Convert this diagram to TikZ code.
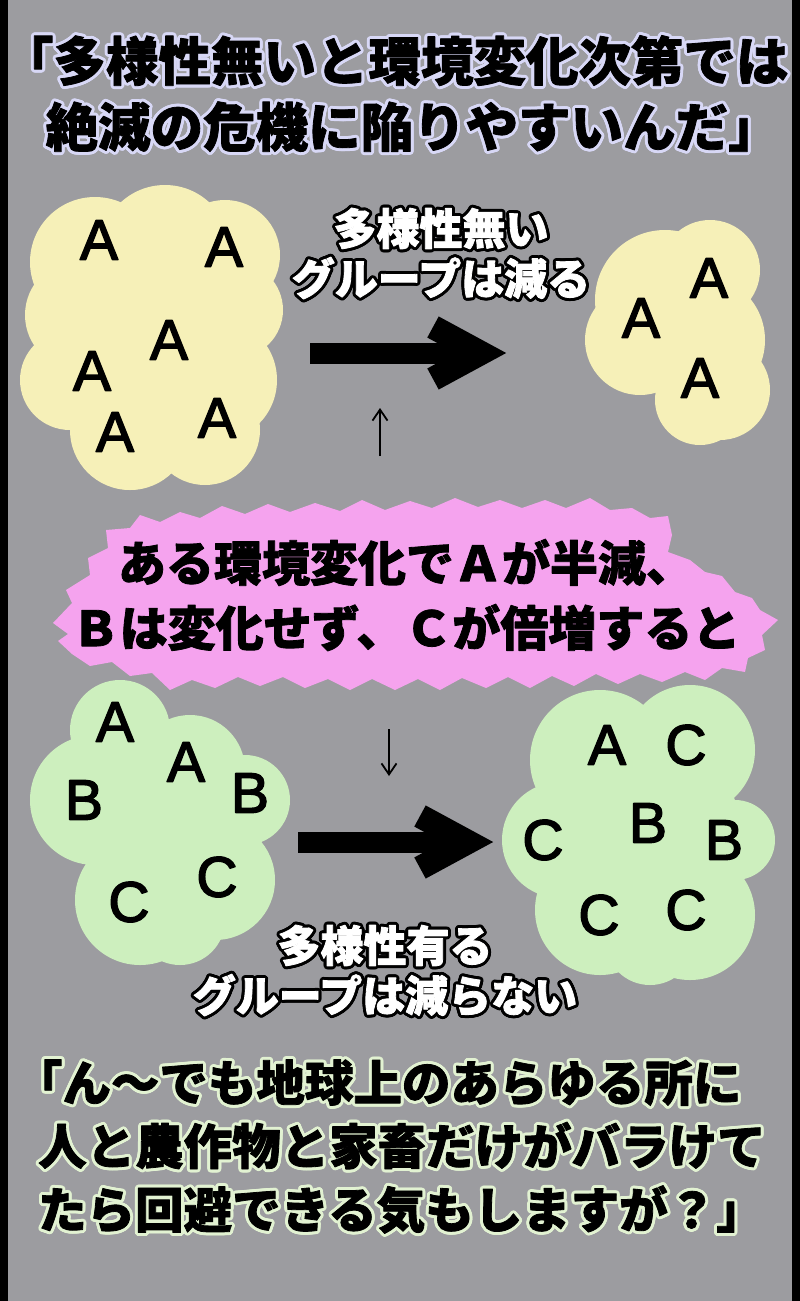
\documentclass[tikz,border=0pt]{standalone}
\usepackage{fontspec}
\setmainfont{Liberation Sans}
\newfontfamily\jpfont{Noto Sans CJK JP}
\usepackage{contour}
\usetikzlibrary{arrows.meta}

\definecolor{panelgrey}{HTML}{9C9CA0}
\definecolor{creamcloud}{HTML}{F6F0B8}
\definecolor{mintcloud}{HTML}{CDEFBE}
\definecolor{burstpink}{HTML}{F5A3EE}
\definecolor{titleglow}{HTML}{D8D8F6}
\definecolor{noteglow}{HTML}{E2F2D2}

\contourlength{3pt}
\contournumber{16}

% glyphs stroked as well as filled (heavier ink)
\newcommand\inked[2]{\special{pdf:literal direct #1 w 1 j 2 Tr}#2\special{pdf:literal direct 0 Tr}}
\newcommand\haloline[2]{\contour{#1}{\inked{0.8}{#2}}}
\newcommand\openq[1][0.5em]{\makebox[#1][r]{「}}
\newcommand\closeq{\makebox[0.5em][l]{」}}

\tikzset{
  letter/.style={inner sep=0pt, font=\fontsize{57}{57}\selectfont},
  headline/.style={inner sep=0pt, align=center, font=\jpfont\bfseries\fontsize{52.5}{66}\selectfont},
  caption/.style={inner sep=0pt, align=center, text=white, font=\jpfont\bfseries\fontsize{43}{50}\selectfont},
  bursttext/.style={inner sep=0pt, align=center, font=\jpfont\bfseries\fontsize{48}{65}\selectfont},
  note/.style={inner sep=0pt, align=left, font=\jpfont\bfseries\fontsize{48.5}{63.5}\selectfont},
  bigshaft/.style={line width=21pt},
  bighead/.style={line width=24pt, line join=miter},
  thinarrow/.style={line width=1.8pt, -{Straight Barb[length=11pt,width=15pt]}}
}

\begin{document}
\begin{tikzpicture}[x=1pt, y=-1pt]
  \useasboundingbox (0,0) rectangle (800,1301);
  \fill[panelgrey] (0,0) rectangle (800,1301);
  \fill[black] (0,0) rectangle (8,1301);
  \fill[black] (792,0) rectangle (800,1301);

  % headline
  \node[headline] (title) at (400,95)
    {\haloline{titleglow}{\openq[0.8em]多様性無いと環境変化次第では}\\\haloline{titleglow}{絶滅の危機に陥りやすいんだ\closeq}};

  % clouds
  \foreach \cx/\cy/\r in {95/262/65, 165/250/65, 225/255/55, 235/310/48, 80/315/55, 150/340/80,
      70/380/50, 215/380/62, 205/430/55, 130/430/60, 130/455/35}
    {\fill[creamcloud] (\cx,\cy) circle (\r pt);}
  \foreach \cx/\cy/\r in {665/300/70, 710/270/50, 700/340/65, 720/390/50, 640/340/55, 700/400/45}
    {\fill[creamcloud] (\cx,\cy) circle (\r pt);}
  \foreach \cx/\cy/\r in {120/730/50, 190/770/55, 245/800/45, 95/800/65, 160/830/80,
      140/900/65, 215/880/60, 180/920/45}
    {\fill[mintcloud] (\cx,\cy) circle (\r pt);}
  \foreach \cx/\cy/\r in {600/760/70, 690/750/65, 560/840/58, 650/830/90, 735/840/40,
      600/910/65, 690/915/65, 650/940/45}
    {\fill[mintcloud] (\cx,\cy) circle (\r pt);}

  % letters
  \foreach \x/\y [count=\n] in {99/240, 224/247, 169/340, 92/371, 115/432, 217/418}
    {\node[letter] (pa\n) at (\x,\y) {\inked{1.5}{A}};}
  \foreach \x/\y [count=\n] in {709/278, 641/318, 700/378}
    {\node[letter] (qa\n) at (\x,\y) {\inked{1.5}{A}};}
  \foreach \x/\y/\c [count=\n] in {115/722/A, 186/762/A, 84/800/B, 250/793/B, 129/902/C, 217/877/C}
    {\node[letter] (r\n) at (\x,\y) {\inked{1.5}{\c}};}
  \foreach \x/\y/\c [count=\n] in {607/745/A, 686/745/C, 543/840/C, 648/823/B, 724/840/B, 599/915/C, 686/910/C}
    {\node[letter] (s\n) at (\x,\y) {\inked{1.5}{\c}};}

  % captions
  \node[caption] (lossy) at (441,255) {\haloline{black}{多様性無い}\\\haloline{black}{グループは減る}};
  \node[caption] (keepy) at (385,972) {\haloline{black}{多様性有る}\\\haloline{black}{グループは減らない}};

  % big arrows
  \coordinate (shaftA) at (310,353);
  \coordinate (tipA) at (481,353);
  \draw[bigshaft] (shaftA) -- ([xshift=-10pt]tipA);
  \draw[bighead] ([shift={(-48,-26)}]tipA) -- (tipA) -- ([shift={(-48,26)}]tipA);
  \coordinate (shaftB) at (298,842);
  \coordinate (tipB) at (468,842);
  \draw[bigshaft] (shaftB) -- ([xshift=-10pt]tipB);
  \draw[bighead] ([shift={(-48,-26)}]tipB) -- (tipB) -- ([shift={(-48,26)}]tipB);

  % small arrows
  \coordinate (upTail) at (380,456);
  \coordinate (upHead) at (380,408);
  \draw[thinarrow] (upTail) -- (upHead);
  \coordinate (downTail) at (389,729);
  \coordinate (downHead) at (389,776);
  \draw[thinarrow] (downTail) -- (downHead);

  % burst
  \fill[burstpink] plot coordinates {(53,623) (72,603) (66,590) (90,575) (88,558) (108,548) (106,530)
    (130,528) (140,515) (160,522) (180,512) (200,518) (222,506) (245,514) (268,504) (290,512)
    (315,503) (340,511) (362,500) (385,510) (410,501) (432,508) (455,498) (478,507) (500,500)
    (522,508) (545,500) (566,508) (590,498) (610,510) (632,508) (650,518) (668,516) (672,535)
    (668,552) (690,560) (705,572) (722,576) (735,592) (752,598) (760,610) (778,620) (762,635)
    (765,650) (748,658) (745,672) (722,668) (705,680) (685,672) (662,682) (640,674) (618,684)
    (596,674) (574,686) (552,676) (530,688) (508,677) (486,688) (462,678) (440,690) (418,679)
    (395,690) (372,679) (350,690) (328,679) (305,688) (283,677) (260,686) (238,677) (215,688)
    (192,680) (170,690) (152,673) (130,676) (112,662) (90,666) (72,654) (58,641) (68,634)} -- cycle;
  \node[bursttext] (change) at (406,595) {\inked{0.8}{ある環境変化でＡが半減、}\\\inked{0.8}{Ｂは変化せず、Ｃが倍増すると}};

  % closing note
  \node[note, anchor=west] (remark) at (38,1148)
    {\haloline{noteglow}{\openq ん〜でも地球上のあらゆる所に}\\\haloline{noteglow}{人と農作物と家畜だけがバラけて}\\\haloline{noteglow}{たら回避できる気もしますが？\closeq}};
\end{tikzpicture}
\end{document}
